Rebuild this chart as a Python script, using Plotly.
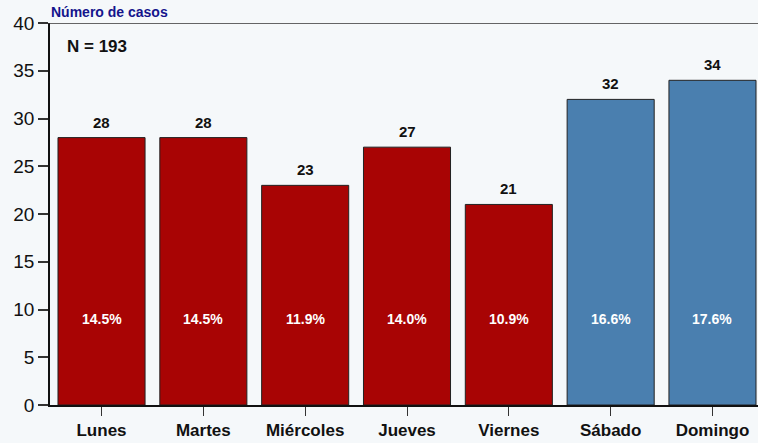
import plotly.graph_objects as go

days = ["Lunes", "Martes", "Miércoles", "Jueves", "Viernes", "Sábado", "Domingo"]
cases = [28, 28, 23, 27, 21, 32, 34]
percent_labels = ["14.5%", "14.5%", "11.9%", "14.0%", "10.9%", "16.6%", "17.6%"]
total_n = 193

RED = "#A80404"
BLUE = "#4A7FAF"
bar_colors = [RED] * 5 + [BLUE] * 2
BG = "#F5F8FA"
FONT = "Liberation Sans, Arial, sans-serif"

fig = go.Figure()
fig.add_trace(go.Bar(
    x=days, y=cases,
    marker=dict(color=bar_colors, line=dict(color="#222222", width=1)),
    width=0.855,
    hoverinfo="skip",
))

annotations = []
for d, v, p in zip(days, cases, percent_labels):
    annotations.append(dict(
        x=d, y=v, xref="x", yref="y", text=f"<b>{v}</b>", showarrow=False,
        yanchor="bottom", yshift=5, font=dict(family=FONT, size=15, color="#111111"),
    ))
    annotations.append(dict(
        x=d, y=9, xref="x", yref="y", text=f"<b>{p}</b>", showarrow=False,
        yanchor="middle", font=dict(family=FONT, size=14, color="#FFFFFF"),
    ))
annotations.append(dict(
    x=0, y=1, xref="paper", yref="paper", text="<b>Número de casos</b>",
    showarrow=False, xanchor="left", yanchor="bottom", yshift=1, xshift=-1,
    font=dict(family=FONT, size=14, color="#14148C"),
))
annotations.append(dict(
    x=15 / 708, y=37.5, xref="paper", yref="y", text=f"<b>N = {total_n}</b>",
    showarrow=False, xanchor="left", yanchor="middle",
    font=dict(family=FONT, size=17, color="#111111"),
))

fig.update_layout(
    width=758, height=443,
    margin=dict(l=50, r=0, t=23, b=38, autoexpand=False),
    paper_bgcolor=BG, plot_bgcolor=BG,
    showlegend=False,
    annotations=annotations,
    shapes=[dict(type="line", xref="paper", yref="y", x0=-10 / 708, x1=1, y0=40, y1=40,
                 line=dict(color="#333333", width=1.5))],
    font=dict(family=FONT, color="#111111"),
)
fig.update_xaxes(
    range=[-0.506, 6.447], showgrid=False, zeroline=False,
    showline=True, linecolor="#111111", linewidth=1.5,
    ticks="outside", ticklen=9, tickcolor="#333333", tickwidth=1,
    tickfont=dict(family=FONT, size=17, color="#111111"),
    tickvals=days, ticktext=[f"<b>{d}</b>" for d in days],
    automargin=False,
)
fig.update_yaxes(
    range=[0, 40], tickvals=[0, 5, 10, 15, 20, 25, 30, 35, 40],
    showgrid=False, zeroline=False,
    showline=True, linecolor="#111111", linewidth=1.5,
    ticks="outside", ticklen=10, tickcolor="#333333", tickwidth=1.5,
    tickfont=dict(family=FONT, size=19, color="#111111"),
    automargin=False,
)

fig.write_html(
    "out.html",
    config={"displayModeBar": False},
    post_script="document.body.style.margin='0';document.body.style.overflow='hidden';",
)
